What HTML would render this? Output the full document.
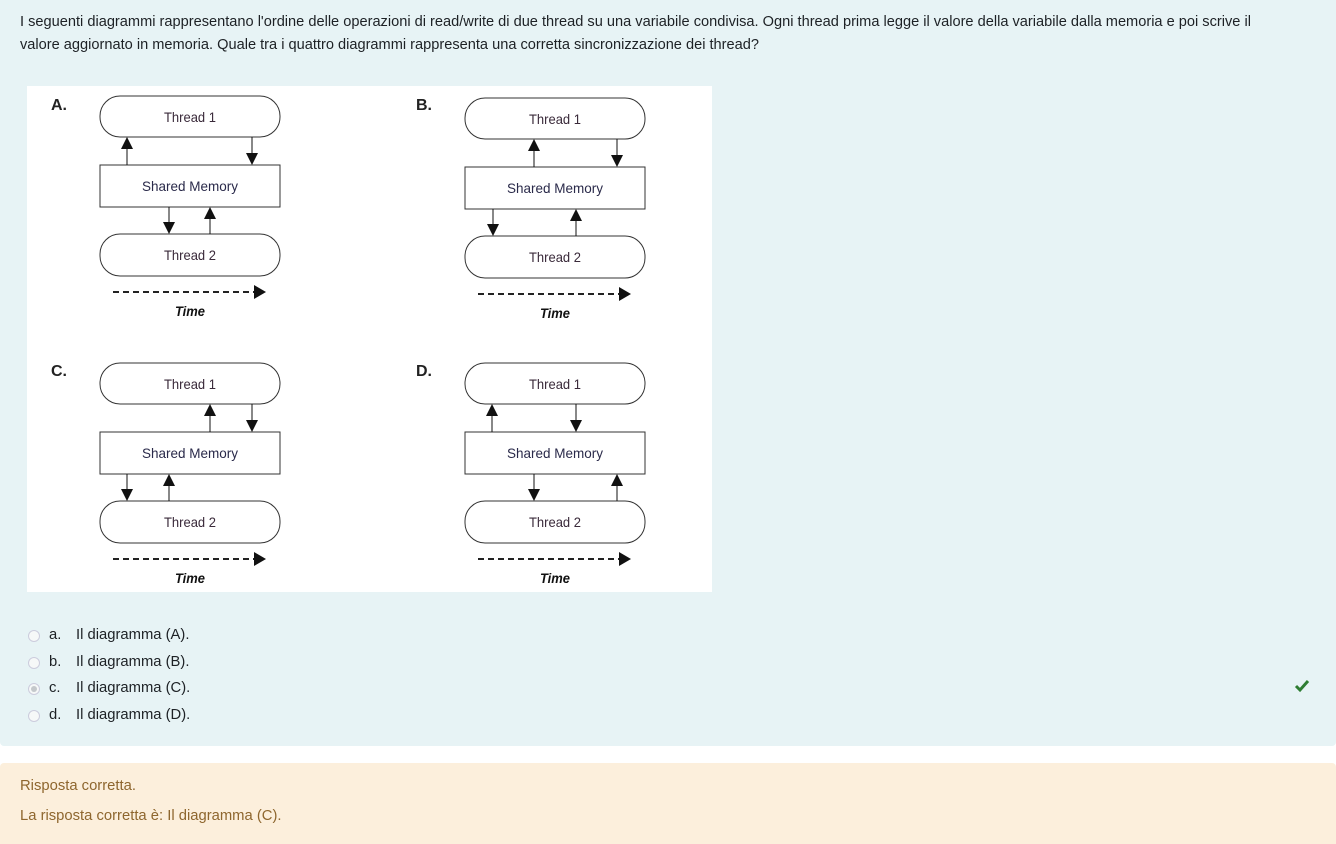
<!DOCTYPE html>
<html><head><meta charset="utf-8">
<style>
html,body{margin:0;padding:0;background:#fff;width:1336px;height:844px;overflow:hidden;font-family:"Liberation Sans",sans-serif;}
.q{position:absolute;left:0;top:0;width:1336px;height:746px;background:#e7f3f5;border-radius:0 0 4px 4px;}
.qt{position:absolute;left:20px;top:11px;width:1272px;font-size:14.6px;line-height:23px;color:#1d2125;}
.opt{position:absolute;left:28px;font-size:14.8px;color:#1d2125;}
.opt .r{position:absolute;left:0;top:3px;width:12px;height:12px;border:1px solid #ccd;border-radius:50%;background:#f6f8f8;box-sizing:border-box;}
.opt .r.s::after{content:"";position:absolute;left:2px;top:2px;width:6px;height:6px;border-radius:50%;background:#c4c8cb;}
.opt .l{position:absolute;left:21px;top:0;white-space:nowrap;}
.opt .t{position:absolute;left:48px;top:0;white-space:nowrap;}
.fb{position:absolute;left:0;top:763px;width:1336px;height:81px;background:#fcefdc;border-radius:4px 4px 0 0;color:#8e662e;font-size:14.8px;}
svg text{font-family:"Liberation Sans",sans-serif;}
</style></head><body>
<div class="q">
<div class="qt">I seguenti diagrammi rappresentano l'ordine delle operazioni di read/write di due thread su una variabile condivisa. Ogni thread prima legge il valore della variabile dalla memoria e poi scrive il valore aggiornato in memoria. Quale tra i quattro diagrammi rappresenta una corretta sincronizzazione dei thread?</div>
<svg style="position:absolute;left:0;top:0" width="1336" height="746">
<defs>
<g id="base">
<rect x="100" y="96" width="180" height="41" rx="20" fill="#fff" stroke="#333" stroke-width="1"/>
<rect x="100" y="165" width="180" height="42" fill="#fff" stroke="#333" stroke-width="1"/>
<rect x="100" y="234" width="180" height="42" rx="20" fill="#fff" stroke="#333" stroke-width="1"/>
<text x="190" y="122" text-anchor="middle" font-size="14" textLength="52" lengthAdjust="spacingAndGlyphs" fill="#3a2a3a">Thread 1</text>
<text x="190" y="191" text-anchor="middle" font-size="14" textLength="96" lengthAdjust="spacingAndGlyphs" fill="#2a2a4a">Shared Memory</text>
<text x="190" y="260" text-anchor="middle" font-size="14" textLength="52" lengthAdjust="spacingAndGlyphs" fill="#3a2a3a">Thread 2</text>
<line x1="113" y1="292" x2="255" y2="292" stroke="#222" stroke-width="2" stroke-dasharray="6,4"/>
<polygon points="254,285 266,292 254,299" fill="#111"/>
<text x="190" y="316" text-anchor="middle" font-size="14" font-weight="bold" font-style="italic" textLength="30" lengthAdjust="spacingAndGlyphs" fill="#111">Time</text>
</g>
</defs>
<rect x="27" y="86" width="685" height="506" fill="#fff"/>
<g>
<use href="#base"/>
<text x="51" y="110" font-size="16" font-weight="bold" fill="#222">A.</text>
<line x1="127" y1="165" x2="127" y2="148" stroke="#111"/><polygon points="121,149 133,149 127,137" fill="#111"/>
<line x1="252" y1="137" x2="252" y2="154" stroke="#111"/><polygon points="246,153 258,153 252,165" fill="#111"/>
<line x1="169" y1="207" x2="169" y2="223" stroke="#111"/><polygon points="163,222 175,222 169,234" fill="#111"/>
<line x1="210" y1="234" x2="210" y2="218" stroke="#111"/><polygon points="204,219 216,219 210,207" fill="#111"/>
</g>
<g transform="translate(365,2)">
<use href="#base"/>
<text x="51" y="108" font-size="16" font-weight="bold" fill="#222">B.</text>
<line x1="169" y1="165" x2="169" y2="148" stroke="#111"/><polygon points="163,149 175,149 169,137" fill="#111"/>
<line x1="252" y1="137" x2="252" y2="154" stroke="#111"/><polygon points="246,153 258,153 252,165" fill="#111"/>
<line x1="128" y1="207" x2="128" y2="223" stroke="#111"/><polygon points="122,222 134,222 128,234" fill="#111"/>
<line x1="211" y1="234" x2="211" y2="218" stroke="#111"/><polygon points="205,219 217,219 211,207" fill="#111"/>
</g>
<g transform="translate(0,267)">
<use href="#base"/>
<text x="51" y="109" font-size="16" font-weight="bold" fill="#222">C.</text>
<line x1="210" y1="165" x2="210" y2="148" stroke="#111"/><polygon points="204,149 216,149 210,137" fill="#111"/>
<line x1="252" y1="137" x2="252" y2="154" stroke="#111"/><polygon points="246,153 258,153 252,165" fill="#111"/>
<line x1="127" y1="207" x2="127" y2="223" stroke="#111"/><polygon points="121,222 133,222 127,234" fill="#111"/>
<line x1="169" y1="234" x2="169" y2="218" stroke="#111"/><polygon points="163,219 175,219 169,207" fill="#111"/>
</g>
<g transform="translate(365,267)">
<use href="#base"/>
<text x="51" y="109" font-size="16" font-weight="bold" fill="#222">D.</text>
<line x1="127" y1="165" x2="127" y2="148" stroke="#111"/><polygon points="121,149 133,149 127,137" fill="#111"/>
<line x1="211" y1="137" x2="211" y2="154" stroke="#111"/><polygon points="205,153 217,153 211,165" fill="#111"/>
<line x1="169" y1="207" x2="169" y2="223" stroke="#111"/><polygon points="163,222 175,222 169,234" fill="#111"/>
<line x1="252" y1="234" x2="252" y2="218" stroke="#111"/><polygon points="246,219 258,219 252,207" fill="#111"/>
</g>
<path d="M1296 686 L1300 690 L1308 681" stroke="#2e7d32" stroke-width="3" fill="none"/>
</svg>
<div class="opt" style="top:627px"><span class="r"></span><span class="l">a.</span><span class="t">Il diagramma (A).</span></div>
<div class="opt" style="top:654px"><span class="r"></span><span class="l">b.</span><span class="t">Il diagramma (B).</span></div>
<div class="opt" style="top:680px"><span class="r s"></span><span class="l">c.</span><span class="t">Il diagramma (C).</span></div>
<div class="opt" style="top:707px"><span class="r"></span><span class="l">d.</span><span class="t">Il diagramma (D).</span></div>
</div>
<div class="fb">
<div style="position:absolute;left:20px;top:15px">Risposta corretta.</div>
<div style="position:absolute;left:20px;top:45px">La risposta corretta è: Il diagramma (C).</div>
</div>
</body></html>
